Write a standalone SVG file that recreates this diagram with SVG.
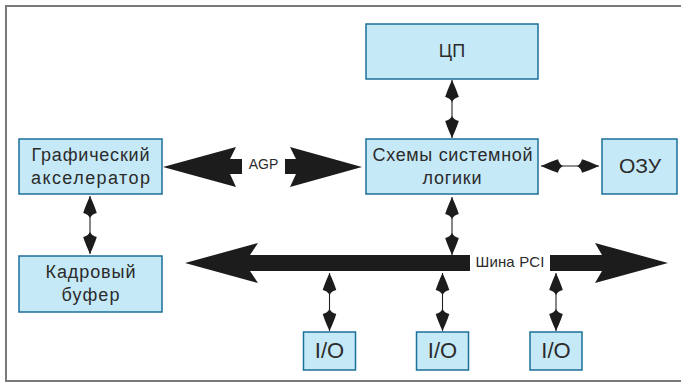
<svg xmlns="http://www.w3.org/2000/svg" width="681" height="383" viewBox="0 0 681 383">
  <style>
    .box { fill: #c6e9f8; stroke: #1b6f99; stroke-width: 1.5; }
    .lbl { font-family: "Liberation Sans", Arial, sans-serif; fill: #2b2b2b; text-anchor: middle; }
    .thin { stroke: #222; stroke-width: 1.1; fill: none; marker-start: url(#ah); marker-end: url(#ah); }
    .fat { fill: #1c1c1c; }
  </style>
  <defs>
    <!-- filled head: pointed front, short tapered back -->
    <marker id="ah" viewBox="-27 -8 28 16" refX="0" refY="0" markerWidth="28" markerHeight="16" markerUnits="userSpaceOnUse" orient="auto-start-reverse">
      <path d="M0,0 Q-10,-4.6 -17,-6.8 Q-18,-2 -22,0 Q-18,2 -17,6.8 Q-10,4.6 0,0 Z" fill="#1c1c1c"/>
    </marker>
  </defs>

  <!-- frame -->
  <path d="M681,6 H6 V381 H681" fill="none" stroke="#7a7a7a" stroke-width="2"/>

  <!-- connectors -->
  <g id="connectors">
    <!-- AGP wide arrow -->
    <polygon class="fat" points="163,167 236,147 230,159 242,159 242,174 230,174 236,187"/>
    <polygon class="fat" points="362,167 290,147 296,159 285,159 285,174 296,174 290,187"/>
    <text class="lbl" x="263.5" y="169" font-size="14" fill="#333">AGP</text>
    <!-- PCI bus -->
    <polygon class="fat" points="185,263 258,243 250,255 470,255 470,271 250,271 258,283"/>
    <polygon class="fat" points="668,263 595,243 602,255 550,255 550,271 602,271 595,283"/>
    <text class="lbl" x="510" y="267" font-size="15" textLength="69">Шина PCI</text>
    <!-- thin bidirectional links -->
    <line class="thin" x1="452" y1="80" x2="452" y2="138"/>
    <line class="thin" x1="541" y1="166" x2="599" y2="166"/>
    <line class="thin" x1="90" y1="196" x2="90" y2="254"/>
    <line class="thin" x1="452" y1="197" x2="452" y2="255"/>
    <line class="thin" x1="329.5" y1="273" x2="329.5" y2="331"/>
    <line class="thin" x1="442.5" y1="273" x2="442.5" y2="331"/>
    <line class="thin" x1="556" y1="273" x2="556" y2="331"/>
  </g>

  <g id="cpu">
    <rect class="box" x="366" y="24" width="172" height="55"/>
    <text class="lbl" x="452" y="57" font-size="18">ЦП</text>
  </g>

  <g id="chipset">
    <rect class="box" x="366" y="139" width="172" height="55"/>
    <text class="lbl" x="452.5" y="161" font-size="18" textLength="160">Схемы системной</text>
    <text class="lbl" x="452" y="184" font-size="18" textLength="59">логики</text>
  </g>

  <g id="ram">
    <rect class="box" x="602" y="139" width="75" height="55"/>
    <text class="lbl" x="640" y="173" font-size="21">ОЗУ</text>
  </g>

  <g id="graphics">
    <rect class="box" x="19" y="139" width="143" height="55"/>
    <text class="lbl" x="90.5" y="161" font-size="18" textLength="118">Графический</text>
    <text class="lbl" x="90.5" y="184" font-size="18" textLength="119">акселератор</text>
  </g>

  <g id="framebuffer">
    <rect class="box" x="19" y="256" width="143" height="56"/>
    <text class="lbl" x="90.5" y="278" font-size="18" textLength="90">Кадровый</text>
    <text class="lbl" x="90.5" y="301" font-size="18" textLength="58">буфер</text>
  </g>

  <g id="io1">
    <rect class="box" x="303.5" y="332" width="52" height="38"/>
    <text class="lbl" x="329.5" y="358" font-size="22">I/O</text>
  </g>
  <g id="io2">
    <rect class="box" x="416.5" y="332" width="52" height="38"/>
    <text class="lbl" x="442.5" y="358" font-size="22">I/O</text>
  </g>
  <g id="io3">
    <rect class="box" x="530" y="332" width="52" height="38"/>
    <text class="lbl" x="556" y="358" font-size="22">I/O</text>
  </g>
</svg>
